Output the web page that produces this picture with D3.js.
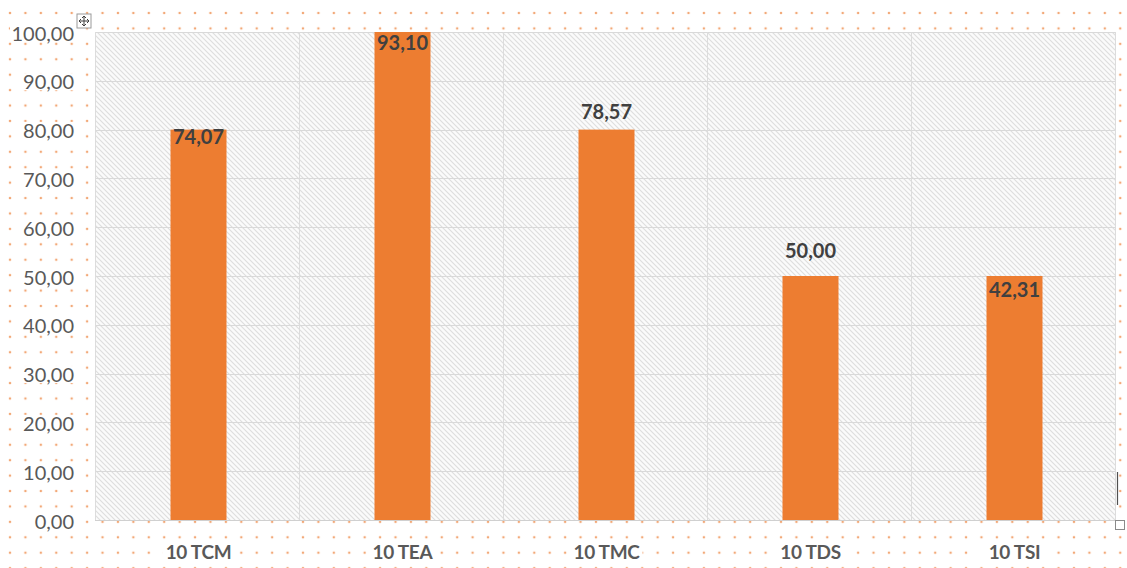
<!DOCTYPE html>
<html>
<head>
<meta charset="utf-8">
<script src="https://cdn.jsdelivr.net/npm/d3@7"></script>
<style>
  html, body { margin: 0; padding: 0; background: #ffffff; }
  svg { display: block; }
</style>
</head>
<body>
<svg id="chart" width="1127" height="568"></svg>
<script>
// ---- data ----
const categories = ["10 TCM", "10 TEA", "10 TMC", "10 TDS", "10 TSI"];
const barValues = [80, 100, 80, 50, 50];
const labelTexts = ["74,07", "93,10", "78,57", "50,00", "42,31"];
const yTicks = [0, 10, 20, 30, 40, 50, 60, 70, 80, 90, 100];

// ---- style (not data) ----
const labelOffsets = [14, 18, -11, -18, 21];
const W = 1127, H = 568;
const plot = { left: 95, right: 1115, top: 32, bottom: 520 };
const barWidth = 56;
const orange = "#ed7d31";

const svg = d3.select("#chart");
const defs = svg.append("defs");

// dotted chart background
const dots = defs.append("pattern")
  .attr("id", "dots").attr("patternUnits", "userSpaceOnUse")
  .attr("x", 10 - 7.71).attr("y", 13 - 7.71)
  .attr("width", 15.42).attr("height", 15.42);
dots.append("circle").attr("cx", 7.71).attr("cy", 7.71).attr("r", 1.25).attr("fill", "#f2a877");

// textured plot area
const tex = defs.append("pattern")
  .attr("id", "tex").attr("patternUnits", "userSpaceOnUse")
  .attr("width", 5).attr("height", 5);
tex.append("rect").attr("width", 5).attr("height", 5).attr("fill", "#fbfbfb");
tex.append("path").attr("d", "M0,0 L5,5 M-1,4 L1,6 M4,-1 L6,1")
  .attr("stroke", "#dedede").attr("stroke-width", 1.1);

svg.append("rect").attr("x", 0).attr("y", 6).attr("width", W).attr("height", H - 6)
  .attr("fill", "url(#dots)");

// scales
const x = d3.scaleBand().domain(categories).range([plot.left, plot.right]).padding(0);
const y = d3.scaleLinear().domain([0, 100]).range([plot.bottom, plot.top]);

// plot area
svg.append("rect")
  .attr("x", plot.left).attr("y", plot.top)
  .attr("width", plot.right - plot.left).attr("height", plot.bottom - plot.top)
  .attr("fill", "url(#tex)");

// horizontal gridlines
svg.append("g").selectAll("line").data(yTicks).join("line")
  .attr("x1", plot.left).attr("x2", plot.right)
  .attr("y1", d => Math.round(y(d)) + 0.5).attr("y2", d => Math.round(y(d)) + 0.5)
  .attr("stroke", "#d9d9d9").attr("stroke-width", 1);

// vertical gridlines at category boundaries
const bounds = categories.map(c => x(c)).concat([plot.right]);
svg.append("g").selectAll("line").data(bounds).join("line")
  .attr("x1", d => Math.round(d) + 0.5).attr("x2", d => Math.round(d) + 0.5)
  .attr("y1", plot.top).attr("y2", plot.bottom)
  .attr("stroke", "#dcdcdc").attr("stroke-width", 1);

// bars
svg.append("g").selectAll("rect").data(categories).join("rect")
  .attr("x", (c) => x(c) + x.bandwidth() / 2 - barWidth / 2 + 1.5)
  .attr("y", (c, i) => y(barValues[i]))
  .attr("width", barWidth)
  .attr("height", (c, i) => y(0) - y(barValues[i]))
  .attr("fill", orange);

// baseline
svg.append("line")
  .attr("x1", plot.left).attr("x2", plot.right)
  .attr("y1", y(0) + 0.5).attr("y2", y(0) + 0.5)
  .attr("stroke", "#d0d0d0");

// data labels
svg.append("g").selectAll("text").data(categories).join("text")
  .attr("x", c => x(c) + x.bandwidth() / 2 + 1.5)
  .attr("y", (c, i) => y(barValues[i]) + labelOffsets[i])
  .attr("text-anchor", "middle")
  .attr("font-family", "Lato, 'Open Sans', sans-serif")
  .attr("font-weight", "bold")
  .attr("font-size", 20)
  .attr("fill", "#404040")
  .text((c, i) => labelTexts[i]);

// y axis labels
const yAxis = d3.axisLeft(y).tickValues(yTicks).tickSize(0).tickPadding(0)
  .tickFormat(d => d3.format(".2f")(d).replace(".", ","));
const yg = svg.append("g").attr("transform", `translate(74,0)`).call(yAxis);
yg.select(".domain").remove();
yg.selectAll(".tick").each(function () {
  const t = d3.select(this);
  const txt = t.select("text");
  txt.attr("font-family", "Lato, 'Open Sans', sans-serif")
    .attr("font-size", 20).attr("fill", "#595959").attr("dy", "0.4em");
});
yg.selectAll(".tick").insert("rect", "text")
  .attr("x", -58).attr("y", -8).attr("width", 60).attr("height", 17).attr("fill", "#ffffff");
yg.selectAll(".tick").filter(d => d === 100).select("rect").attr("x", -64).attr("width", 66);

// x axis labels
const xAxis = d3.axisBottom(x).tickSize(0).tickPadding(0);
const xg = svg.append("g").attr("transform", `translate(1.5,${plot.bottom + 33})`).call(xAxis);
xg.select(".domain").remove();
xg.selectAll(".tick text")
  .attr("font-family", "Lato, 'Open Sans', sans-serif")
  .attr("font-weight", "bold").attr("font-size", 19)
  .attr("fill", "#595959").attr("dy", "0.32em").attr("letter-spacing", "-0.3");
xg.selectAll(".tick").insert("rect", "text")
  .attr("x", -36).attr("y", -8).attr("width", 72).attr("height", 15).attr("fill", "#ffffff");

// editor artifacts: move handle, resize handle, cursor
const mv = svg.append("g").attr("transform", "translate(84,21)");
mv.append("rect").attr("x", -7).attr("y", -7).attr("width", 14).attr("height", 14)
  .attr("fill", "#ffffff").attr("stroke", "#9a9a9a");
mv.append("path").attr("d", "M-5,0 H5 M0,-5 V5 M-5,0 l2,-2 M-5,0 l2,2 M5,0 l-2,-2 M5,0 l-2,2 M0,-5 l-2,2 M0,-5 l2,2 M0,5 l-2,-2 M0,5 l2,-2")
  .attr("stroke", "#404040").attr("stroke-width", 1).attr("fill", "none");
svg.append("rect").attr("x", 1115.5).attr("y", 520.5).attr("width", 9).attr("height", 9)
  .attr("fill", "#ffffff").attr("stroke", "#8a8a8a");
svg.append("line").attr("x1", 1117.5).attr("x2", 1117.5).attr("y1", 472).attr("y2", 505)
  .attr("stroke", "#505050").attr("stroke-width", 1.2);
</script>
</body>
</html>
